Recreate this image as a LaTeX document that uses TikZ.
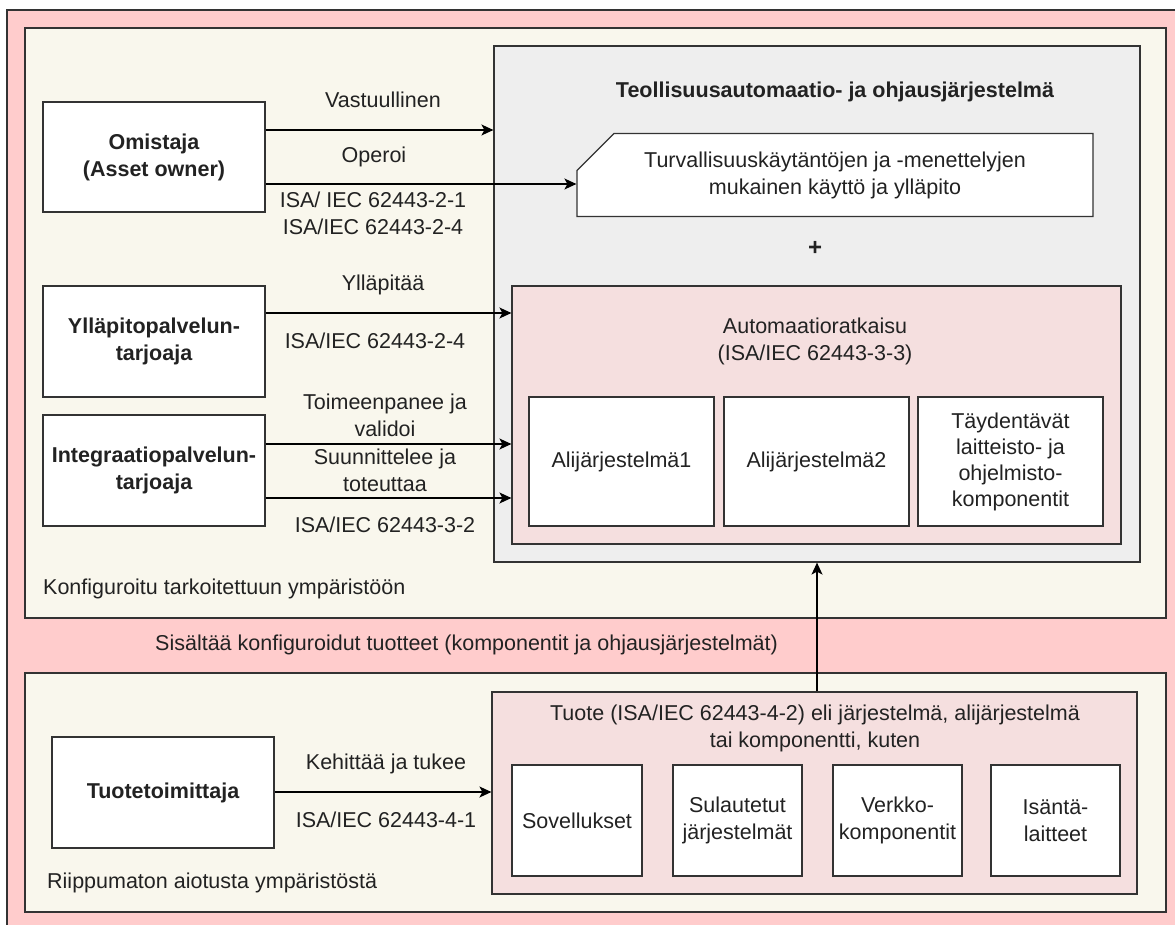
\documentclass[tikz,border=0pt]{standalone}
\usepackage{fontspec}
\setmainfont{Liberation Sans}
\usetikzlibrary{shapes.misc,arrows.meta}

\definecolor{outerpink}{HTML}{FFCCCC}
\definecolor{envbeige}{HTML}{F9F7ED}
\definecolor{sysgray}{HTML}{EEEEEE}
\definecolor{solpink}{HTML}{F5DFDF}
\definecolor{edge}{HTML}{333333}
\definecolor{ink}{HTML}{222222}

\begin{document}
\begin{tikzpicture}[x=1pt,y=-1pt,
  font=\fontsize{21.5}{27}\selectfont, text=ink,
  frame/.style={draw=edge, line width=1.2pt, rectangle, inner sep=0pt},
  region/.style={frame, fill=#1},
  actor/.style={frame, fill=white, font=\fontsize{21.5}{27}\selectfont\bfseries, align=center},
  item/.style={frame, fill=white, align=center},
  lbl/.style={inner sep=0pt, align=center},
  arr/.style={draw=black, line width=1.3pt, -{Stealth[length=12pt,width=11pt,inset=3pt]}},
  sz/.style 2 args={minimum width=#1, minimum height=#2}
]
\useasboundingbox (0,0) rectangle (1175,925);
\clip (0,0) rectangle (1175,925);

% background regions
\node[region=outerpink, sz={1183pt}{930pt}] (outer) at (598.5,475) {};
\node[region=envbeige, sz={1141pt}{590pt}] (envtop) at (595.5,323) {};
\node[region=envbeige, sz={1141pt}{239pt}] (envbot) at (595.5,792.5) {};

% industrial automation and control system
\node[region=sysgray, sz={646pt}{516pt}] (iacs) at (817,304) {};
\node[lbl, font=\fontsize{21.5}{27}\selectfont\bfseries] (iacstitle) at (835,92) {Teollisuusautomaatio- ja ohjausjärjestelmä};
\node[frame, fill=white, chamfered rectangle, chamfered rectangle corners=north west,
      chamfered rectangle xsep=19pt, chamfered rectangle ysep=18pt,
      sz={516pt}{74pt}, align=center] (policy) at (835,175)
  {Turvallisuuskäytäntöjen ja -menettelyjen\\mukainen käyttö ja ylläpito};
\node[lbl, font=\fontsize{24}{27}\selectfont\bfseries] (plus) at (815,248) {+};

\node[region=solpink, sz={609pt}{258pt}] (solution) at (816.5,415) {};
\node[lbl] (soltitle) at (815,341) {Automaatioratkaisu\\(ISA/IEC 62443-3-3)};
\node[item, sz={185pt}{129pt}] (sub1) at (621.5,461.5) {Alijärjestelmä1};
\node[item, sz={185pt}{129pt}] (sub2) at (816.5,461.5) {Alijärjestelmä2};
\node[item, sz={185pt}{129pt}, font=\fontsize{21.5}{26}\selectfont] (sub3) at (1010.5,461.5)
  {Täydentävät\\laitteisto- ja\\ohjelmisto-\\komponentit};

% actors
\node[actor, sz={222pt}{110pt}] (owner) at (154,157) {Omistaja\\(Asset owner)};
\node[actor, sz={222pt}{111pt}] (maint) at (154,341.5) {Ylläpitopalvelun-\\tarjoaja};
\node[actor, sz={222pt}{111pt}] (integ) at (154,470.5) {Integraatiopalvelun-\\tarjoaja};
\node[actor, sz={222pt}{111pt}] (supplier) at (163,792.5) {Tuotetoimittaja};

% products
\node[region=solpink, sz={645pt}{202pt}] (product) at (814.5,793) {};
\node[lbl] (prodtitle) at (815,728) {Tuote (ISA/IEC 62443-4-2) eli järjestelmä, alijärjestelmä\\tai komponentti, kuten};
\node[item, sz={130pt}{111pt}] (p1) at (577,820.5) {Sovellukset};
\node[item, sz={129pt}{111pt}] (p2) at (737.5,820.5) {Sulautetut\\järjestelmät};
\node[item, sz={129pt}{111pt}] (p3) at (897.5,820.5) {Verkko-\\komponentit};
\node[item, sz={129pt}{111pt}] (p4) at (1055.5,820.5) {Isäntä-\\laitteet};

% region captions
\node[lbl, anchor=west] (cfgcap) at (43,589) {Konfiguroitu tarkoitettuun ympäristöön};
\node[lbl, anchor=west] (contcap) at (155,645) {Sisältää konfiguroidut tuotteet (komponentit ja ohjausjärjestelmät)};
\node[lbl, anchor=west] (indcap) at (47,883) {Riippumaton aiotusta ympäristöstä};

% connector rows
\coordinate (r1) at (0,130);
\coordinate (r2) at (0,184);
\coordinate (r3) at (0,313);
\coordinate (r4) at (0,444);
\coordinate (r5) at (0,498);
\coordinate (r6) at (0,792);

\draw[arr] (owner.east |- r1) -- (iacs.west |- r1);
\draw[arr] (owner.east |- r2) -- (policy.west |- r2);
\draw[arr] (maint.east |- r3) -- (solution.west |- r3);
\draw[arr] (integ.east |- r4) -- (solution.west |- r4);
\draw[arr] (integ.east |- r5) -- (solution.west |- r5);
\draw[arr] (supplier.east |- r6) -- (product.west |- r6);
\draw[arr] (iacs.south |- product.north) -- (iacs.south);

% connector labels
\node[lbl] (l1) at (383,100) {Vastuullinen};
\node[lbl] (l2) at (374,157) {Operoi};
\node[lbl] (l2b) at (373,213) {ISA/ IEC 62443-2-1\\ISA/IEC 62443-2-4};
\node[lbl] (l3) at (383,285) {Ylläpitää};
\node[lbl] (l3b) at (375,341) {ISA/IEC 62443-2-4};
\node[lbl] (l4) at (385,415) {Toimeenpanee ja\\validoi};
\node[lbl] (l5) at (385,470) {Suunnittelee ja\\toteuttaa};
\node[lbl] (l5b) at (385,525) {ISA/IEC 62443-3-2};
\node[lbl] (l6) at (386,764) {Kehittää ja tukee};
\node[lbl] (l6b) at (386,820) {ISA/IEC 62443-4-1};
\end{tikzpicture}
\end{document}
